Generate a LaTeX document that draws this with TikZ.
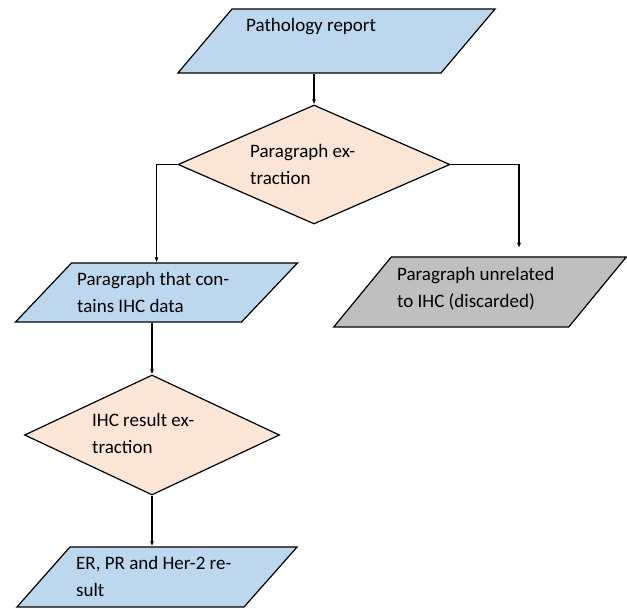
\documentclass[tikz,border=0pt]{standalone}
\usepackage{fontspec}
\setmainfont{Carlito}
\usetikzlibrary{arrows.meta,calc,positioning,shapes.geometric}
\definecolor{ioblue}{RGB}{189,215,238}
\definecolor{peach}{RGB}{251,229,214}
\definecolor{discard}{RGB}{191,191,191}
\tikzset{%
	inout/.style    = {draw, trapezium, trapezium left angle=50, trapezium right angle=130, inner sep=0pt, text depth=0pt, line width=1.2pt, fill=ioblue},
	decision/.style = {draw, diamond, inner sep=0pt, line width=1.2pt, fill=peach},
	txt/.style      = {align=left, inner sep=0pt, anchor=base west, font=\fontsize{19pt}{27pt}\selectfont},
	arrow/.style    = {line width=1.1pt, -{Latex[length=5pt,width=4pt]}},
}
\begin{document}
\begin{tikzpicture}[x=1pt, y=-1pt]
	\useasboundingbox (0,0) rectangle (627,609);
	% shapes
	\node[inout, trapezium left angle=49.8, trapezium right angle=130.2, text width=209pt, text height=64pt] (pr) at (336.5,41) {};
	\node[decision, minimum width=272pt, minimum height=119pt] (pe) at (314,164.5) {};
	\node[inout, trapezium left angle=46.5, trapezium right angle=133.5, text width=170pt, text height=59pt] (pi) at (156.5,292.5) {};
	\node[inout, fill=discard, trapezium left angle=50.6, trapezium right angle=129.4, text width=177.5pt, text height=70pt] (ud) at (480,292) {};
	\node[decision, minimum width=255pt, minimum height=120pt] (ie) at (152,435) {};
	\node[inout, trapezium left angle=48.5, trapezium right angle=131.5, text width=174pt, text height=60pt] (er) at (157,577) {};
	% texts (anchored on the last line)
	\node[txt] (pr-t) at (246,32) {Pathology report};
	\node[txt] (pe-t) at (250,185) {Paragraph ex-\\traction};
	\node[txt] (pi-t) at (77,313) {Paragraph that con-\\tains IHC data};
	\node[txt] (ud-t) at (397,308) {Paragraph unrelated\\to IHC (discarded)};
	\node[txt] (ie-t) at (92,454) {IHC result ex-\\traction};
	\node[txt] (er-t) at (76,596) {ER, PR and Her-2 re-\\sult};
	% connectors
	\coordinate (ud-in) at (519,248);
	\draw[arrow] (pr.south -| pe.north) -- (pe.north);
	\draw[arrow] (pe.west) -| (pi.north);
	\draw[arrow] (pe.east) -| (ud-in);
	\draw[arrow] (pi.south -| ie.north) -- (ie.north);
	\draw[arrow] (ie.south) -- (ie.south |- er.north);
\end{tikzpicture}
\end{document}
